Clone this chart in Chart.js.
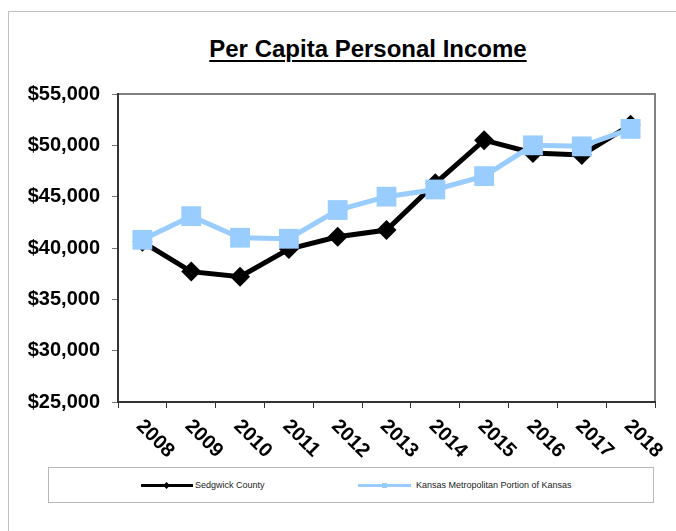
<!DOCTYPE html>
<html>
<head>
<meta charset="utf-8">
<script src="https://cdn.jsdelivr.net/npm/chart.js@4/dist/chart.umd.min.js"></script>
<style>
  html, body { margin: 0; padding: 0; background: #fff; overflow: hidden; }
  #wrap { position: relative; width: 676px; height: 531px; overflow: hidden; }
  #frame { position: absolute; left: 8px; top: 11px; width: 720px; height: 600px; border: 1px solid #c0c0c0; }
  #title {
    position: absolute; left: 0; top: 37px; width: 736px; text-align: center;
    font: bold 24px "Liberation Sans", Arial, sans-serif; line-height: 24px; color: #000;
    text-decoration: underline; text-decoration-thickness: 2px; text-underline-offset: 3px;
  }
  #chartCanvas { position: absolute; left: 0; top: 0; }
  #legend {
    position: absolute; left: 48px; top: 467px; width: 604px; height: 34px;
    border: 1px solid #b8b8b8; background: #fff;
    font: 9px "Liberation Sans", Arial, sans-serif; color: #222;
  }
  .sample { position: absolute; height: 3px; top: 16px; }
  .mark { position: absolute; width: 5px; height: 5px; top: 15px; }
  .label { position: absolute; top: 12px; line-height: 11px; white-space: nowrap; }
</style>
</head>
<body>
<div id="wrap">
  <div id="frame"></div>
  <div id="title">Per Capita Personal Income</div>
  <canvas id="chartCanvas" width="676" height="531"></canvas>
  <div id="legend">
    <span class="sample" style="left:92px;width:52px;background:#000;"></span>
    <span class="mark" style="left:115px;background:#000;transform:rotate(45deg);"></span>
    <span class="label" style="left:146px;">Sedgwick County</span>
    <span class="sample" style="left:309px;width:53px;background:#99ccff;"></span>
    <span class="mark" style="left:333px;background:#99ccff;"></span>
    <span class="label" style="left:367px;">Kansas Metropolitan Portion of Kansas</span>
  </div>
</div>
<script>
// years on the x axis
const years = ['2008', '2009', '2010', '2011', '2012', '2013', '2014', '2015', '2016', '2017', '2018'];
// per capita personal income
const sedgwickCounty = [40600, 37700, 37200, 39900, 41100, 41750, 46300, 50500, 49250, 49050, 52000];
const kansasMetro = [40800, 43100, 41000, 40900, 43700, 45000, 45700, 47000, 50000, 49900, 51600];
// y axis range
const yMin = 25000;
const yMax = 55000;
const yStep = 5000;

const labelFont = 'bold 20px "Liberation Sans", Arial, sans-serif';

// grey frame round the plot area (left/bottom axis lines drawn darker by the scales)
const plotFrame = {
    id: 'plotFrame',
    beforeDraw(chart) {
        const a = chart.chartArea;
        const ctx = chart.ctx;
        ctx.save();
        ctx.strokeStyle = '#808080';
        ctx.lineWidth = 2;
        ctx.strokeRect(a.left, a.top, a.right - a.left, a.bottom - a.top);
        ctx.restore();
    }
};

// year labels slanted down to the right
const slantedLabels = {
    id: 'slantedLabels',
    afterDraw(chart) {
        const xScale = chart.scales.x;
        const ctx = chart.ctx;
        ctx.save();
        ctx.font = labelFont;
        ctx.fillStyle = '#000';
        ctx.textAlign = 'left';
        ctx.textBaseline = 'top';
        years.forEach((year, i) => {
            const x = xScale.getPixelForValue(i);
            ctx.save();
            ctx.translate(x + 4, xScale.bottom + 8);
            ctx.rotate(Math.PI / 4);
            ctx.fillText(year, 0, 0);
            ctx.restore();
        });
        ctx.restore();
    }
};

const ctx = document.getElementById('chartCanvas').getContext('2d');
const incomeChart = new Chart(ctx, {
    type: 'line',
    data: {
        labels: years,
        datasets: [{
            label: 'Sedgwick County',
            data: sedgwickCounty,
            borderColor: '#000',
            backgroundColor: '#000',
            borderWidth: 5,
            pointStyle: 'rectRot',
            pointRadius: 10,
            pointBorderWidth: 0,
            tension: 0,
            order: 1
        }, {
            label: 'Kansas Metropolitan Portion of Kansas',
            data: kansasMetro,
            borderColor: '#99ccff',
            backgroundColor: '#99ccff',
            borderWidth: 5,
            pointStyle: 'rect',
            pointRadius: 14,
            pointBorderWidth: 0,
            tension: 0,
            order: 0
        }]
    },
    options: {
        responsive: false,
        animation: false,
        devicePixelRatio: 1,
        layout: {
            padding: { left: 0, top: 94, right: 21, bottom: 123 }
        },
        plugins: {
            legend: { display: false },
            title: { display: false },
            tooltip: { enabled: false }
        },
        scales: {
            x: {
                offset: true,
                grid: {
                    offset: true,
                    drawOnChartArea: false,
                    drawTicks: true,
                    tickLength: 6,
                    color: '#333'
                },
                border: { color: '#333', width: 2 },
                ticks: { display: false },
                afterFit: scale => { scale.height = 6; }
            },
            y: {
                min: yMin,
                max: yMax,
                grid: {
                    drawOnChartArea: false,
                    drawTicks: true,
                    tickLength: 6,
                    color: '#777'
                },
                border: { color: '#333', width: 2 },
                ticks: {
                    stepSize: yStep,
                    padding: 12,
                    color: '#000',
                    font: { family: '"Liberation Sans", Arial, sans-serif', size: 20, weight: 'bold' },
                    callback: value => '$' + value.toLocaleString('en-US')
                },
                afterFit: scale => { scale.width = 118; }
            }
        }
    },
    plugins: [plotFrame, slantedLabels]
});
</script>
</body>
</html>
